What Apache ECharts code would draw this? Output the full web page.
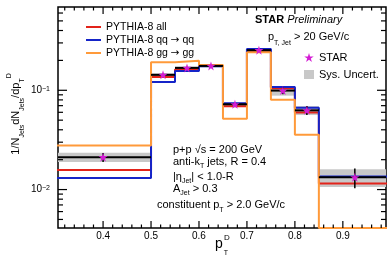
<!DOCTYPE html>
<html>
<head>
<meta charset="utf-8">
<script src="https://cdn.jsdelivr.net/npm/echarts@6/dist/echarts.min.js"></script>
<style>
html, body { margin: 0; padding: 0; background: #fff; }
#main { width: 387px; height: 257px; }
</style>
</head>
<body>
<div id="main"></div>
<script>
// bins in p_T^D (first bin 0.3-0.5, last 0.85-1.0)
var binEdges = [0.3, 0.5, 0.55, 0.6, 0.65, 0.7, 0.75, 0.8, 0.85, 1.0];
// STAR data points, stat. and sys. errors
var starVals = [0.0212, 0.143, 0.168, 0.176, 0.0723, 0.2535, 0.0993, 0.0628, 0.0133];
var statErr  = [0.0022, 0.004, 0.004, 0.004, 0.002, 0.005, 0.008, 0.0065, 0.003];
var sysErr   = [0.0023, 0.006, 0.006, 0.006, 0.003, 0.008, 0.011, 0.0065, 0.0027];
// PYTHIA-8 curves
var pythiaAll = [0.0157, 0.136, 0.162, 0.177, 0.0689, 0.250, 0.1047, 0.0596, 0.0115];
var pythiaQQ  = [0.0131, 0.121, 0.156, 0.175, 0.0739, 0.261, 0.108, 0.0665, 0.0135];
var pythiaGG  = [0.0278, 0.192, 0.198, 0.180, 0.0518, 0.242, 0.0805, 0.0357, 0.003];
// axis ticks
var xTickVals = [0.4, 0.5, 0.6, 0.7, 0.8, 0.9];
var xTickLabels = ['0.4', '0.5', '0.6', '0.7', '0.8', '0.9'];
var yTickVals = [0.01, 0.1];
var yTickLabels = ['10{s|\u22122}', '10{s|\u22121}'];

var X_MIN = 0.306, X_MAX = 0.99, Y_MIN = 0.0041, Y_MAX = 0.69;
var FONT = 'Liberation Sans, Arial, Helvetica, sans-serif';
var starPath = 'path://M50,0L61.2,34.5L97.6,34.5L68.2,55.9L79.4,90.5L50,69.1L20.6,90.5L31.8,55.9L2.4,34.5L38.8,34.5Z';

var myChart = echarts.init(document.getElementById('main'));

// histogram as a step line, values under the frame sit on the bottom edge
function stepLine(vals) {
    var pts = [];
    for (var i = 0; i < vals.length; i++) pts.push([binEdges[i], Math.max(vals[i], Y_MIN)]);
    pts.push([binEdges[vals.length], Math.max(vals[vals.length - 1], Y_MIN)]);
    return pts;
}
function binRows(errs) {
    var rows = [];
    for (var i = 0; i < starVals.length; i++) rows.push([binEdges[i], binEdges[i + 1], starVals[i], errs[i]]);
    return rows;
}
var starPoints = starVals.map(function (v, i) { return [(binEdges[i] + binEdges[i + 1]) / 2, v]; });

// minor ticks: 5 per 0.1 in x, 2..9 per decade in y
var xTickData = [];
for (var k = 16; k <= 49; k++) {
    var xv = Math.round(k * 2) / 100;
    xTickData.push([xv, Y_MIN, xTickVals.indexOf(xv) >= 0 ? 1 : 0]);
}
var yTickData = [];
[0.001, 0.01, 0.1].forEach(function (d) {
    for (var m = 1; m <= 9; m++) {
        var yv = +(m * d).toPrecision(3);
        if (yv > Y_MIN && yv < Y_MAX) yTickData.push([X_MIN, yv, m === 1 ? 1 : 0]);
    }
});

function tickLine(x1, y1, x2, y2) {
    return { type: 'line', shape: { x1: x1, y1: y1, x2: x2, y2: y2 }, style: { stroke: '#000', lineWidth: 1.2 } };
}

var subRich = function (lh) {
    return {
        m: { fontSize: 11, lineHeight: lh, fontFamily: FONT },
        s: { fontSize: 7, lineHeight: 8, verticalAlign: 'bottom', fontFamily: FONT },
        u: { fontSize: 7, lineHeight: 8, verticalAlign: 'top', fontFamily: FONT }
    };
};

function note(x, y, text, lh) {
    return {
        type: 'text', z: 10,
        style: { x: x, y: y, text: text, rich: subRich(lh), fill: '#000', verticalAlign: 'middle', fontFamily: FONT, fontSize: 11 }
    };
}

myChart.setOption({
    animation: false,
    grid: { left: 58, right: 1, top: 7, bottom: 29, show: true, borderColor: '#000', borderWidth: 1.5 },
    xAxis: {
        type: 'value', min: X_MIN, max: X_MAX,
        axisLine: { show: false }, axisTick: { show: false }, splitLine: { show: false },
        axisLabel: {
            showMinLabel: false, showMaxLabel: false, fontSize: 10, color: '#000', margin: 3, fontFamily: FONT,
            formatter: function (v) {
                for (var i = 0; i < xTickVals.length; i++) if (Math.abs(v - xTickVals[i]) < 1e-6) return xTickLabels[i];
                return '';
            }
        }
    },
    yAxis: {
        type: 'log', logBase: 10, min: Y_MIN, max: Y_MAX,
        axisLine: { show: false }, axisTick: { show: false }, splitLine: { show: false },
        axisLabel: {
            showMinLabel: false, showMaxLabel: false, fontSize: 10, color: '#000', margin: 8, fontFamily: FONT,
            rich: { s: { fontSize: 7, verticalAlign: 'top', lineHeight: 8, fontFamily: FONT } },
            formatter: function (v) {
                for (var i = 0; i < yTickVals.length; i++) if (Math.abs(v / yTickVals[i] - 1) < 1e-6) return yTickLabels[i];
                return '';
            }
        }
    },
    legend: [{
        data: ['PYTHIA-8 all', 'PYTHIA-8 qq \u2192 qq', 'PYTHIA-8 gg \u2192 gg'],
        orient: 'vertical', left: 81, top: 16.5, itemWidth: 15, itemHeight: 2, itemGap: 2, icon: 'rect',
        selectedMode: false,
        formatter: function (name) { return name.replace('\u2192', '{a|\u2192}'); },
        textStyle: {
            fontSize: 10.5, lineHeight: 11, color: '#000', fontFamily: FONT,
            rich: { a: { fontSize: 10.5, lineHeight: 11, fontFamily: 'DejaVu Sans', color: '#000' } }
        }
    }, {
        data: [{ name: 'STAR', icon: starPath }, { name: 'Sys. Uncert.', icon: 'rect' }],
        orient: 'vertical', left: 299, top: 46.5, itemWidth: 10, itemHeight: 9, itemGap: 5,
        selectedMode: false,
        textStyle: { fontSize: 11, lineHeight: 12, color: '#000', fontFamily: FONT }
    }],
    series: [{
        name: 'Sys. Uncert.', type: 'custom', z: 1, clip: true,
        itemStyle: { color: '#c8c8c8' },
        encode: { x: [0, 1], y: 2 },
        data: binRows(sysErr),
        renderItem: function (params, api) {
            var p1 = api.coord([api.value(0), api.value(2) + api.value(3)]);
            var p2 = api.coord([api.value(1), api.value(2) - api.value(3)]);
            return { type: 'rect', shape: { x: p1[0], y: p1[1], width: p2[0] - p1[0], height: p2[1] - p1[1] }, style: { fill: '#c8c8c8' } };
        }
    }, {
        name: 'PYTHIA-8 all', type: 'line', step: 'end', z: 2, symbol: 'none',
        color: '#e2231a', lineStyle: { width: 2, color: '#e2231a' },
        data: stepLine(pythiaAll)
    }, {
        name: 'PYTHIA-8 qq \u2192 qq', type: 'line', step: 'end', z: 2, symbol: 'none',
        color: '#1524c8', lineStyle: { width: 2, color: '#1524c8' },
        data: stepLine(pythiaQQ)
    }, {
        name: 'PYTHIA-8 gg \u2192 gg', type: 'line', step: 'end', z: 2, symbol: 'none',
        color: '#ff9a3a', lineStyle: { width: 2, color: '#ff9a3a' },
        data: stepLine(pythiaGG)
    }, {
        name: 'STAR err', type: 'custom', z: 3, clip: true,
        encode: { x: [0, 1], y: 2 },
        data: binRows(statErr),
        renderItem: function (params, api) {
            var lo = api.value(0), hi = api.value(1), v = api.value(2), e = api.value(3), c = (lo + hi) / 2;
            var a = api.coord([lo, v]), b = api.coord([hi, v]);
            var t = api.coord([c, v + e]), d = api.coord([c, v - e]);
            return { type: 'group', children: [
                { type: 'line', shape: { x1: a[0], y1: a[1], x2: b[0], y2: b[1] }, style: { stroke: '#000', lineWidth: 2 } },
                { type: 'line', shape: { x1: t[0], y1: t[1], x2: d[0], y2: d[1] }, style: { stroke: '#000', lineWidth: 1.5 } }
            ] };
        }
    }, {
        name: 'STAR', type: 'scatter', z: 4, symbol: starPath, symbolSize: 9,
        itemStyle: { color: '#d41cd4', opacity: 1 },
        data: starPoints
    }, {
        name: 'xticks', type: 'custom', z: 5, clip: false, silent: true,
        data: xTickData,
        renderItem: function (params, api) {
            var v = api.value(0), len = api.value(2) ? 7 : 3.5;
            var b = api.coord([v, Y_MIN]), t = api.coord([v, Y_MAX]);
            return { type: 'group', children: [tickLine(b[0], b[1], b[0], b[1] - len), tickLine(t[0], t[1], t[0], t[1] + len)] };
        }
    }, {
        name: 'yticks', type: 'custom', z: 5, clip: false, silent: true,
        data: yTickData,
        renderItem: function (params, api) {
            var v = api.value(1), len = api.value(2) ? 9 : 5;
            var l = api.coord([X_MIN, v]), r = api.coord([X_MAX, v]);
            return { type: 'group', children: [tickLine(l[0], l[1], l[0] + len, l[1]), tickLine(r[0], r[1], r[0] - len, r[1])] };
        }
    }],
    graphic: [
        {
            type: 'text', z: 10,
            style: {
                x: 255, y: 19.5, text: '{b|STAR} {i|Preliminary}', verticalAlign: 'middle', fill: '#000',
                fontFamily: FONT, fontSize: 11,
                rich: { b: { fontWeight: 'bold', fontSize: 11, fontFamily: FONT }, i: { fontStyle: 'italic', fontSize: 11, fontFamily: FONT } }
            }
        },
        note(268, 36.5, '{m|p}{s|T, Jet}{m| > 20 GeV/c}', 21),
        note(173, 149.5, '{m|p+p \u221As = 200 GeV}', 14),
        note(173, 161.5, '{m|anti-k}{s|T}{m| jets, R = 0.4}', 17),
        note(173, 176.5, '{m||\u03B7}{s|Jet}{m|| < 1.0-R}', 17),
        note(173, 188.5, '{m|A}{s|Jet}{m| > 0.3}', 17),
        note(157, 205, '{m|constituent p}{s|T}{m| > 2.0 GeV/c}', 17),
        {
            type: 'text', z: 10, rotation: Math.PI / 2, x: 16, y: 114,
            style: {
                x: 0, y: 0, text: '{m|1/N}{s|Jets}{m|dN}{s|Jets}{m|/dp}{s|T}{u|D}', rich: subRich(20),
                align: 'center', verticalAlign: 'middle', fill: '#000', fontFamily: FONT, fontSize: 11
            }
        },
        { type: 'text', z: 10, style: { x: 219, y: 244, text: 'p', align: 'center', verticalAlign: 'middle', fontSize: 14, fontFamily: FONT, fill: '#000' } },
        { type: 'text', z: 10, style: { x: 227, y: 238, text: 'D', align: 'center', verticalAlign: 'middle', fontSize: 8, fontFamily: FONT, fill: '#000' } },
        { type: 'text', z: 10, style: { x: 226, y: 253, text: 'T', align: 'center', verticalAlign: 'middle', fontSize: 7, fontFamily: FONT, fill: '#000' } }
    ]
});
</script>
</body>
</html>
